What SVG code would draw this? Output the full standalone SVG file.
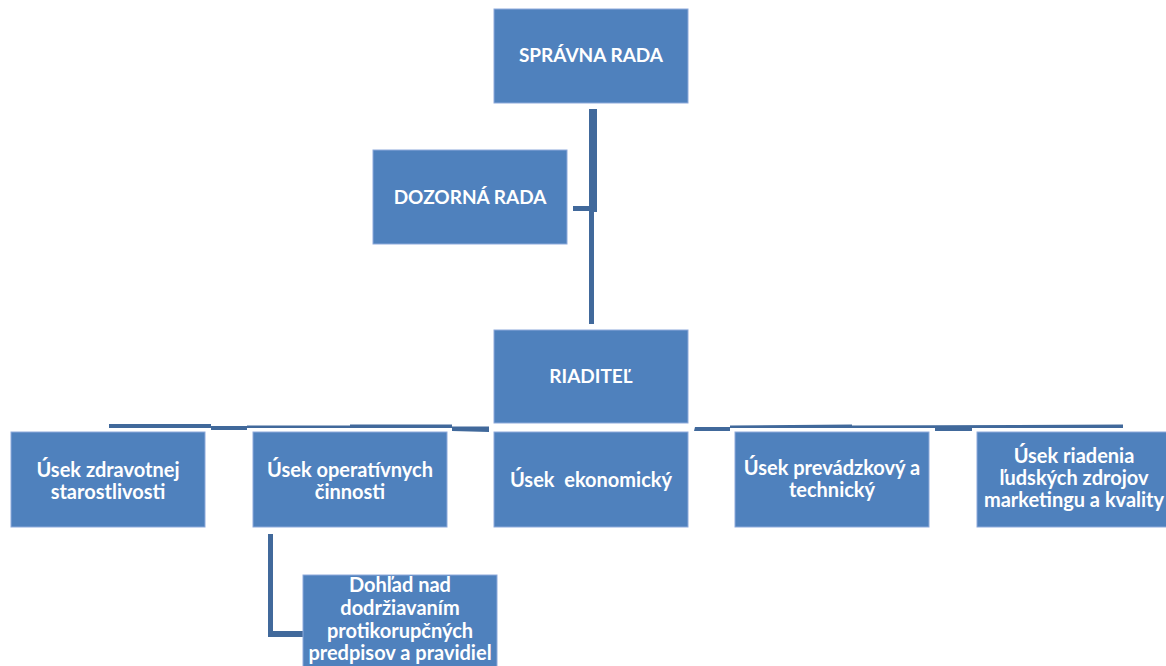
<svg xmlns="http://www.w3.org/2000/svg" width="1166" height="666" viewBox="0 0 1166 666">
<style>
.box{fill:#4F81BD;stroke:#8EAADB;stroke-width:1}
.t{font-family:Lato,"Open Sans","Liberation Sans",sans-serif;font-weight:bold;font-size:20px;fill:#FFFFFF;text-anchor:middle}
.h{font-size:19px}
.c{fill:#41699B;stroke:none}
</style>
<rect width="1166" height="666" fill="#FFFFFF"/>
<g id="connectors">
<rect class="c" x="589" y="109" width="8" height="103"/>
<rect class="c" x="589" y="211" width="5" height="113"/>
<rect class="c" x="573" y="206" width="20" height="5"/>
<polygon class="c" points="109,424 211,424 211,426 247,426 247,425.5 350,425.5 350,424.5 452,424.5 452,426.5 489,426.5 489,432 452,431 452,428 247,428 247,430 211,430 211,428 109,428"/>
<polygon class="c" points="695,427 730,427 730,425.5 852,424.5 852,425.5 1123,424.5 1123,428 972,428 972,431 935,431 935,428 852,428 730,428 730,431 694,431"/>
<rect class="c" x="268" y="534" width="5" height="103"/>
<rect class="c" x="268" y="631" width="35" height="6"/>
</g>
<g id="spravna-rada">
<rect class="box" x="494" y="9" width="194" height="94"/>
<text class="t h" x="591" y="62">SPRÁVNA RADA</text>
</g>
<g id="dozorna-rada">
<rect class="box" x="373" y="150" width="194" height="94"/>
<text class="t h" x="470" y="204">DOZORNÁ RADA</text>
</g>
<g id="riaditel">
<rect class="box" x="494" y="330" width="194" height="93"/>
<text class="t h" x="591" y="383">RIADITEĽ</text>
</g>
<g id="usek-zdravotnej">
<rect class="box" x="11" y="432" width="194" height="95"/>
<text class="t" x="108" y="477">Úsek zdravotnej</text>
<text class="t" x="108" y="499">starostlivosti</text>
</g>
<g id="usek-operativnych">
<rect class="box" x="253" y="432" width="194" height="95"/>
<text class="t" x="350" y="477">Úsek operatívnych</text>
<text class="t" x="350" y="499">činnosti</text>
</g>
<g id="usek-ekonomicky">
<rect class="box" x="494" y="432" width="194" height="95"/>
<text class="t" x="591" y="487" xml:space="preserve">Úsek  ekonomický</text>
</g>
<g id="usek-prevadzkovy">
<rect class="box" x="735" y="432" width="194" height="95"/>
<text class="t" x="832" y="475">Úsek prevádzkový a</text>
<text class="t" x="832" y="497">technický</text>
</g>
<g id="usek-riadenia">
<rect class="box" x="977" y="432" width="194" height="95"/>
<text class="t" x="1074" y="463">Úsek riadenia</text>
<text class="t" x="1074" y="485">ľudských zdrojov</text>
<text class="t" x="1074" y="507">marketingu a kvality</text>
</g>
<g id="dohlad">
<rect class="box" x="303" y="575" width="194" height="100"/>
<text class="t" x="400" y="592">Dohľad nad</text>
<text class="t" x="400" y="615">dodržiavaním</text>
<text class="t" x="400" y="638">protikorupčných</text>
<text class="t" x="400" y="660">predpisov a pravidiel</text>
</g>
</svg>
